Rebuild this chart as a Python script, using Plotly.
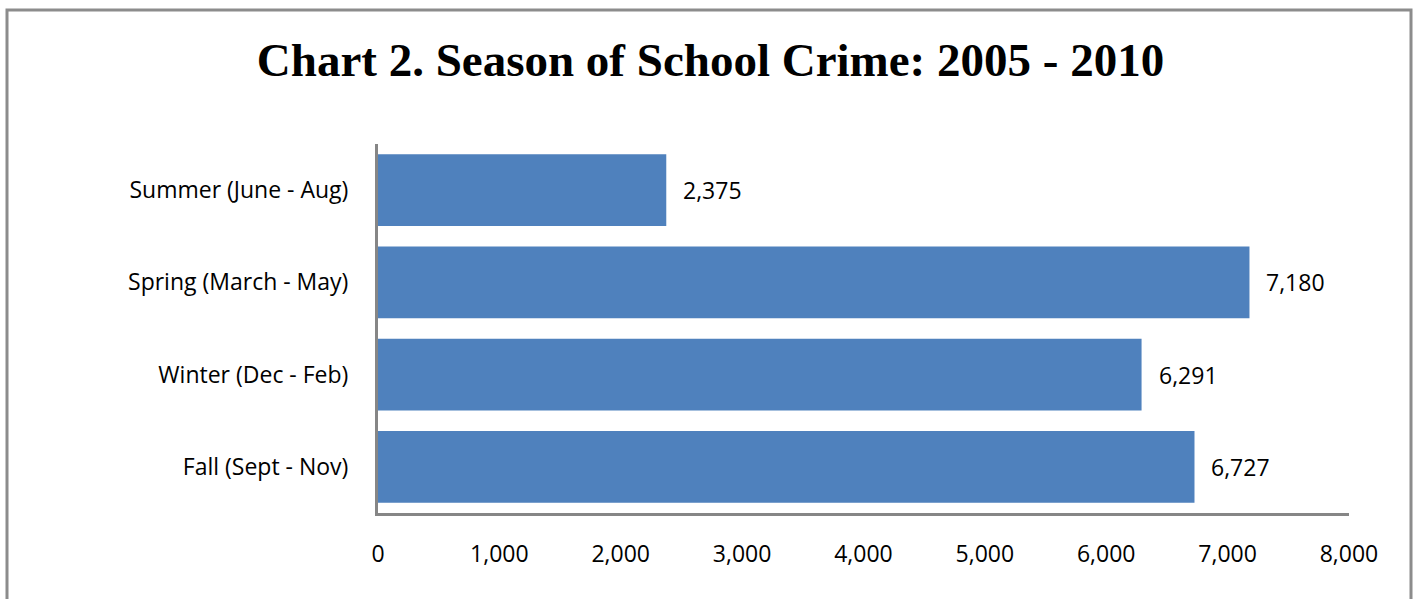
import plotly.graph_objects as go

# Crime counts by season, 2005-2010
seasons = ["Fall (Sept - Nov)", "Winter (Dec - Feb)", "Spring (March - May)", "Summer (June - Aug)"]
counts = [6727, 6291, 7180, 2375]
x_ticks = [0, 1000, 2000, 3000, 4000, 5000, 6000, 7000, 8000]

W, H = 1421, 599
ML, MR, MT, MB = 378, 72, 144, 86

bar_color = "#4F81BD"
axis_color = "#868686"
label_font = dict(family="Open Sans, Lato, sans-serif", size=23, color="#000000")

fig = go.Figure(
    go.Bar(
        y=seasons,
        x=counts,
        orientation="h",
        marker=dict(color=bar_color, line=dict(width=0)),
        hoverinfo="skip",
    )
)

# value labels to the right of each bar
for s, v in zip(seasons, counts):
    fig.add_annotation(
        x=v, y=s, xref="x", yref="y",
        text=f"{v:,}", showarrow=False,
        xanchor="left", yanchor="middle", xshift=15,
        font=label_font,
    )

# outer frame around the whole chart
pw, ph = W - ML - MR, H - MT - MB
def px_to_paper_x(px):
    return (px - ML) / pw
def px_to_paper_y(py):
    return (H - MB - py) / ph

fig.add_shape(
    type="rect", xref="paper", yref="paper",
    x0=px_to_paper_x(7), x1=px_to_paper_x(1411),
    y0=px_to_paper_y(640), y1=px_to_paper_y(10),
    line=dict(color="#8C8C8C", width=3), fillcolor="rgba(0,0,0,0)",
    layer="below",
)

fig.update_layout(
    width=W, height=H,
    margin=dict(l=ML, r=MR, t=MT, b=MB, pad=0),
    paper_bgcolor="white", plot_bgcolor="white",
    bargap=0.22,
    showlegend=False,
    title=dict(
        text="<b>Chart 2. Season of School Crime: 2005 - 2010</b>",
        x=0.5, xanchor="center", xref="container",
        y=1 - 60 / H, yanchor="middle", yref="container",
        font=dict(family="Liberation Serif, serif", size=47, color="#000000"),
    ),
    xaxis=dict(
        range=[0, 8000], tickvals=x_ticks,
        ticktext=[f"{t:,}" for t in x_ticks],
        showgrid=False, zeroline=False,
        showline=True, linecolor=axis_color, linewidth=3,
        ticks="", tickfont=label_font, ticklabelstandoff=18,
    ),
    yaxis=dict(
        categoryorder="array", categoryarray=seasons,
        showgrid=False, zeroline=False,
        showline=True, linecolor=axis_color, linewidth=3,
        ticks="", tickfont=label_font, ticklabelstandoff=22,
    ),
)

fig.write_html("out.html")
